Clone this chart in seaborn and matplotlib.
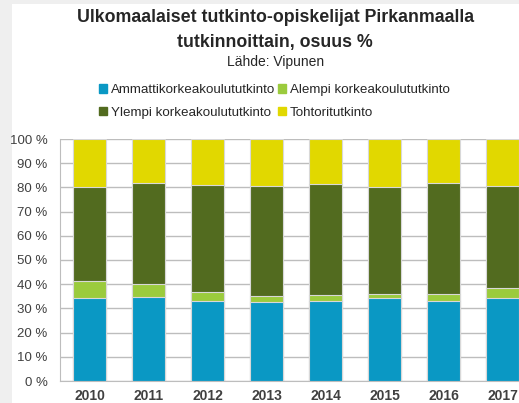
import pandas as pd
import matplotlib.pyplot as plt
import matplotlib.patches as mpatches
from matplotlib.ticker import FuncFormatter
import seaborn as sns

years = ["2010", "2011", "2012", "2013", "2014", "2015", "2016", "2017"]
amk = [34.3, 34.9, 33.1, 32.6, 33.0, 34.1, 33.0, 34.1]
alempi = [6.9, 5.1, 3.7, 2.6, 2.4, 2.0, 2.9, 4.5]
ylempi = [39.1, 41.7, 44.0, 45.4, 45.8, 44.2, 45.8, 42.0]
tohtori = [19.7, 18.3, 19.2, 19.4, 18.8, 19.7, 18.3, 19.4]

labels = ["Ammattikorkeakoulututkinto", "Alempi korkeakoulututkinto",
          "Ylempi korkeakoulututkinto", "Tohtoritutkinto"]
colors = ["#0A98C4", "#9BCB3D", "#526B1F", "#E1D800"]

df = pd.DataFrame({"year": years, "amk": amk, "alempi": alempi,
                   "ylempi": ylempi, "tohtori": tohtori})
# cumulative tops for the stacked bars
df["c1"] = df["amk"]
df["c2"] = df["c1"] + df["alempi"]
df["c3"] = df["c2"] + df["ylempi"]
df["c4"] = df["c3"] + df["tohtori"]

sns.set_style("white")
plt.rcParams["font.family"] = ["Liberation Sans", "DejaVu Sans"]

fig = plt.figure(figsize=(5.19, 4.03), dpi=100)
fig.patch.set_facecolor("#EFEFEF")
fig.patches.append(mpatches.Rectangle((12 / 519, 0), 1, 399 / 403, transform=fig.transFigure,
                                      facecolor="white", edgecolor="none", zorder=-1))

ax = fig.add_axes([60 / 519, 22 / 403, 472 / 519, 242 / 403])
ax.set_facecolor("white")

for col, c in zip(["c4", "c3", "c2", "c1"], colors[::-1]):
    sns.barplot(data=df, x="year", y=col, color=c, width=0.56, ax=ax,
                edgecolor="#D8D8D8", linewidth=0.8, saturation=1, zorder=3)

ax.set_ylim(0, 100)
ax.set_xlim(-0.5, 7.5)
ax.set_yticks(range(0, 101, 10))
ax.yaxis.set_major_formatter(FuncFormatter(lambda v, p: f"{int(v)} %"))
ax.grid(axis="y", color="#BDBDBD", linewidth=1, zorder=0)
ax.set_axisbelow(True)
ax.set_xlabel("")
ax.set_ylabel("")
for s in ["top", "right"]:
    ax.spines[s].set_visible(False)
ax.spines["left"].set_color("#BDBDBD")
ax.spines["bottom"].set_color("#BDBDBD")
ax.tick_params(axis="y", length=0, pad=9, labelsize=9.5, labelcolor="#404040")
ax.tick_params(axis="x", length=0, pad=6, labelsize=10, labelcolor="#404040")
for t in ax.get_xticklabels():
    t.set_fontweight("bold")

fig.text(0.53, 1 - 18 / 403, "Ulkomaalaiset tutkinto-opiskelijat Pirkanmaalla",
         ha="center", va="center", fontsize=12.8, fontweight="bold")
fig.text(0.53, 1 - 42 / 403, "tutkinnoittain, osuus %",
         ha="center", va="center", fontsize=12.8, fontweight="bold")
fig.text(0.53, 1 - 62 / 403, "Lähde: Vipunen", ha="center", va="center", fontsize=10)

handles = [mpatches.Patch(color=c, label=l) for c, l in zip(colors, labels)]
order = [0, 2, 1, 3]  # legend fills column-wise, reference reads row-wise
fig.legend(handles=[handles[i] for i in order], ncol=2, loc="center",
           bbox_to_anchor=(0.528, 1 - 101.5 / 403),
           frameon=False, fontsize=9.6, handlelength=0.6, handleheight=0.6,
           handletextpad=0.3, columnspacing=0.2, labelspacing=0.8)

fig.savefig("out.png", dpi=100)
